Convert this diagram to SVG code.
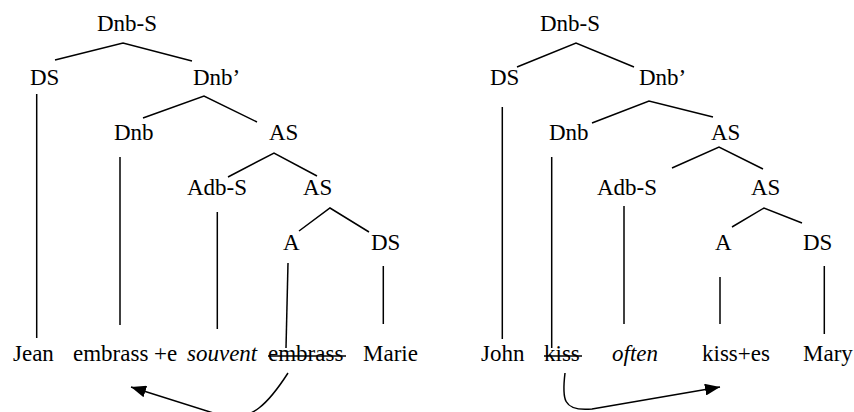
<svg xmlns="http://www.w3.org/2000/svg" width="854" height="412" viewBox="0 0 854 412">
<style>
text{font-family:"Liberation Serif","Times New Roman",serif;font-size:23px;fill:#000}
.it{font-style:italic}
.e{stroke:#000;stroke-width:1.5;fill:none}
.s{stroke:#000;stroke-width:1.5}
</style>
<defs>
<marker id="ah" viewBox="0 0 15 12" refX="15" refY="6" markerWidth="15" markerHeight="12" markerUnits="userSpaceOnUse" orient="auto">
<path d="M0,0 L15,6 L0,12 z" fill="#000"/>
</marker>
</defs>
<rect width="854" height="412" fill="#fff"/>

<g id="left-tree">
<g id="L-DnbS"><text x="97" y="31">Dnb-S</text></g>
<g id="L-DS1"><text x="30" y="85">DS</text></g>
<g id="L-Dnbp"><text x="193" y="85">Dnb&#8217;</text></g>
<g id="L-Dnb"><text x="114" y="140">Dnb</text></g>
<g id="L-AS1"><text x="269" y="140">AS</text></g>
<g id="L-AdbS"><text x="187" y="195">Adb-S</text></g>
<g id="L-AS2"><text x="303" y="195">AS</text></g>
<g id="L-A"><text x="283" y="250">A</text></g>
<g id="L-DS2"><text x="371" y="250">DS</text></g>
<g id="L-Jean"><text x="13" y="361">Jean</text></g>
<g id="L-embrass-e"><text x="73" y="361">embrass +e</text></g>
<g id="L-souvent"><text class="it" x="187" y="361">souvent</text></g>
<g id="L-embrass-struck"><text x="268" y="361">embrass</text><line class="s" x1="268" y1="356" x2="346" y2="356"/></g>
<g id="L-Marie"><text x="363" y="361">Marie</text></g>
</g>

<g id="right-tree">
<g id="R-DnbS"><text x="540" y="31">Dnb-S</text></g>
<g id="R-DS1"><text x="490" y="85">DS</text></g>
<g id="R-Dnbp"><text x="639" y="85">Dnb&#8217;</text></g>
<g id="R-Dnb"><text x="549" y="140">Dnb</text></g>
<g id="R-AS1"><text x="711" y="140">AS</text></g>
<g id="R-AdbS"><text x="597" y="195">Adb-S</text></g>
<g id="R-AS2"><text x="751" y="195">AS</text></g>
<g id="R-A"><text x="715" y="250">A</text></g>
<g id="R-DS2"><text x="803" y="250">DS</text></g>
<g id="R-John"><text x="481" y="361">John</text></g>
<g id="R-kiss-struck"><text x="544" y="361">kiss</text><line class="s" x1="544" y1="356" x2="582" y2="356"/></g>
<g id="R-often"><text class="it" x="612" y="361">often</text></g>
<g id="R-kisses"><text x="702" y="361">kiss+es</text></g>
<g id="R-Mary"><text x="803" y="361">Mary</text></g>
</g>

<g id="connectors">
<polyline class="e" points="55,60 123,43 192,61"/>
<line class="e" x1="36.7" y1="94" x2="36.7" y2="338"/>
<polyline class="e" points="143,118 204,96 257,122"/>
<line class="e" x1="120" y1="157" x2="120" y2="325"/>
<polyline class="e" points="228,177 274,153 317,176"/>
<line class="e" x1="217.3" y1="212" x2="217.3" y2="329"/>
<polyline class="e" points="299,231 330,208 369,232"/>
<line class="e" x1="288" y1="263" x2="286" y2="348"/>
<line class="e" x1="383.3" y1="266" x2="383.3" y2="324"/>
<path class="e" d="M288,373 C268,404 252,420 226,417 L131,387" marker-end="url(#ah)"/>
<polyline class="e" points="517,67 576,43 634,67"/>
<line class="e" x1="502.3" y1="107" x2="502.3" y2="339"/>
<polyline class="e" points="592,123 649,101 713,117"/>
<line class="e" x1="551.7" y1="157" x2="551.7" y2="348"/>
<polyline class="e" points="672,168 719,147 763,169"/>
<line class="e" x1="624" y1="206" x2="624" y2="324"/>
<polyline class="e" points="732,227 764,208 802,223"/>
<line class="e" x1="720" y1="277" x2="720" y2="324"/>
<line class="e" x1="824.3" y1="266" x2="824.3" y2="334"/>
<path class="e" d="M565,373 C562,398 562,412 592,409 L720,387" marker-end="url(#ah)"/>
</g>
</svg>
